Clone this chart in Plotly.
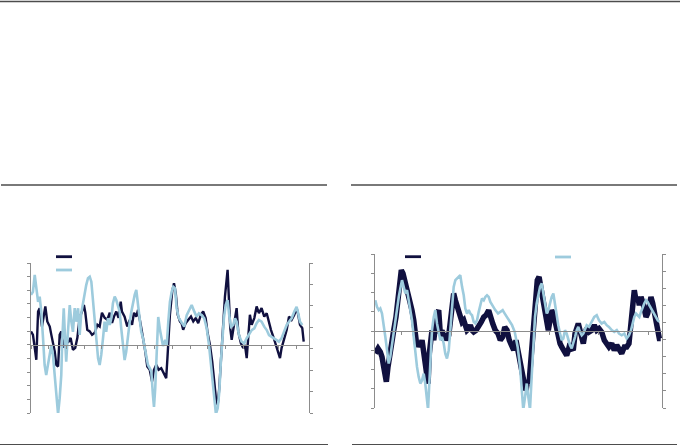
import plotly.graph_objects as go

# ---------------- Left chart data ----------------
left_dark_x = [2008.00, 2008.11, 2008.24, 2008.30, 2008.40, 2008.49, 2008.62, 2008.73, 2008.81, 2008.92,
 2009.06, 2009.15, 2009.24, 2009.34, 2009.43, 2009.53, 2009.62, 2009.71, 2009.81, 2009.94,
 2010.09, 2010.24, 2010.37, 2010.50, 2010.62, 2010.75, 2010.88, 2010.99, 2011.07, 2011.18,
 2011.32, 2011.45, 2011.60, 2011.75, 2011.88, 2012.01, 2012.16, 2012.31, 2012.45, 2012.58,
 2012.69, 2012.82, 2012.95, 2013.07, 2013.14, 2013.29, 2013.44, 2013.58, 2013.71, 2013.82,
 2013.95, 2014.05, 2014.20, 2014.33, 2014.46, 2014.57, 2014.71, 2014.84, 2014.95, 2015.08,
 2015.21, 2015.36, 2015.51, 2015.64, 2015.71, 2015.76, 2015.85, 2015.98, 2016.08, 2016.18,
 2016.29, 2016.42, 2016.51, 2016.60, 2016.74, 2016.89, 2017.04, 2017.17, 2017.31, 2017.45,
 2017.60, 2017.73, 2017.87, 2017.98, 2018.11, 2018.24, 2018.36, 2018.45, 2018.55, 2018.64,
 2018.73, 2018.81, 2018.89, 2018.96, 2019.06, 2019.11, 2019.19, 2019.26, 2019.34, 2019.43,
 2019.53, 2019.62, 2019.71, 2019.86, 2019.99, 2020.09, 2020.19, 2020.28, 2020.37, 2020.47,
 2020.62, 2020.75, 2020.88, 2021.03, 2021.18, 2021.32, 2021.45, 2021.56, 2021.69, 2021.82,
 2021.94, 2022.07, 2022.16, 2022.31, 2022.45, 2022.58, 2022.73, 2022.88, 2023.01, 2023.10,
 2023.20, 2023.33, 2023.41]
left_dark = [0.98, 0.73, -0.49, -1.10, 2.44, 2.69, 1.34, 2.20, 2.81, 1.71,
 1.34, 0.73, 0.15, -0.49, -1.47, -1.59, 0.73, 0.98, -0.22, 0.51,
 0.15, 0.51, -0.37, -0.22, 0.51, 1.98, 2.44, 2.93, 2.35, 1.10,
 0.98, 0.73, 0.88, 1.47, 1.34, 2.35, 1.98, 1.83, 2.35, 1.61,
 2.07, 2.44, 1.98, 3.17, 2.44, 2.07, 1.34, 1.83, 1.47, 2.35,
 2.07, 2.57, 1.47, 0.51, -0.49, -1.59, -1.83, -2.69, -1.83, -1.47,
 -1.83, -1.71, -2.07, -2.44, -0.98, 0.51, 2.20, 3.91, 4.52, 3.79,
 2.20, 1.71, 1.59, 1.10, 1.59, 1.83, 2.07, 1.71, 1.96, 1.59,
 2.20, 2.44, 1.96, 0.86, 0.00, -1.22, -2.69, -3.91, -4.40, -3.17,
 -1.22, 0.98, 2.07, 3.54, 4.64, 5.50, 3.17, 1.22, 0.37, 1.10,
 1.71, 2.69, 0.98, 0.12, -0.24, 0.00, -0.98, 0.98, 2.20, 1.47,
 1.96, 2.81, 2.32, 2.69, 2.07, 2.32, 1.59, 1.10, 0.61, 0.00,
 -0.37, -0.98, -0.24, 0.37, 1.10, 2.07, 1.83, 2.20, 2.69, 2.20,
 1.47, 1.22, 0.24]

left_light_x = [2008.00, 2008.11, 2008.21, 2008.30, 2008.40, 2008.49, 2008.58, 2008.68, 2008.77, 2008.86,
 2008.96, 2009.06, 2009.15, 2009.24, 2009.34, 2009.43, 2009.53, 2009.62, 2009.71, 2009.77,
 2009.85, 2009.90, 2009.99, 2010.09, 2010.19, 2010.28, 2010.37, 2010.47, 2010.56, 2010.66,
 2010.75, 2010.84, 2010.94, 2011.03, 2011.12, 2011.22, 2011.32, 2011.41, 2011.50, 2011.60,
 2011.69, 2011.79, 2011.88, 2011.97, 2012.07, 2012.16, 2012.25, 2012.35, 2012.45, 2012.54,
 2012.63, 2012.73, 2012.82, 2012.92, 2013.01, 2013.10, 2013.20, 2013.29, 2013.38, 2013.48,
 2013.58, 2013.67, 2013.76, 2013.86, 2013.95, 2014.05, 2014.14, 2014.23, 2014.33, 2014.42,
 2014.51, 2014.61, 2014.71, 2014.80, 2014.89, 2014.95, 2015.02, 2015.12, 2015.19, 2015.29,
 2015.46, 2015.59, 2015.67, 2015.76, 2015.85, 2015.95, 2016.04, 2016.14, 2016.23, 2016.36,
 2016.51, 2016.66, 2016.80, 2016.93, 2017.08, 2017.23, 2017.36, 2017.49, 2017.64, 2017.79,
 2017.93, 2018.06, 2018.17, 2018.27, 2018.36, 2018.45, 2018.55, 2018.64, 2018.73, 2018.81,
 2018.90, 2019.00, 2019.11, 2019.20, 2019.30, 2019.43, 2019.53, 2019.62, 2019.75, 2019.90,
 2020.05, 2020.19, 2020.32, 2020.47, 2020.62, 2020.75, 2020.88, 2021.03, 2021.18, 2021.32,
 2021.45, 2021.60, 2021.75, 2021.88, 2022.01, 2022.16, 2022.31, 2022.45, 2022.58, 2022.73,
 2022.88, 2023.01, 2023.10, 2023.20, 2023.33]
left_light = [2.51, 2.66, 3.44, 2.82, 2.19, 2.43, 1.73, 0.49, -0.76, -1.23,
 -0.76, -0.29, 0.17, -0.29, -1.23, -2.16, -3.05, -2.31, -1.23, 0.49,
 1.89, 0.95, -0.61, 0.79, 2.04, 1.26, 0.79, 1.89, 1.26, 1.89,
 0.64, 1.65, 2.19, 2.66, 2.97, 3.29, 3.36, 3.13, 2.19, 1.26,
 0.17, -0.45, -0.76, -0.29, 0.49, 1.26, 0.79, 1.42, 1.11, 1.42,
 2.12, 2.43, 2.27, 2.04, 1.73, 0.95, 0.02, -0.53, -0.14, 0.64,
 1.26, 1.73, 2.19, 2.51, 2.74, 2.04, 1.26, 0.79, 0.49, 0.02,
 -0.45, -0.76, -0.91, -1.07, -2.16, -2.71, -1.85, 0.41, 1.48, 0.87,
 0.13, 0.41, 0.17, 1.26, 2.19, 2.66, 2.89, 2.82, 1.89, 1.42,
 1.19, 1.03, 1.57, 1.81, 2.04, 1.73, 1.49, 1.65, 1.57, 1.42,
 0.95, 0.17, -0.76, -1.54, -2.31, -3.05, -2.78, -2.01, -0.61, 0.49,
 1.42, 2.04, 2.27, 1.57, 1.03, 1.11, 1.42, 1.26, 0.64, 0.33,
 0.25, 0.49, 0.64, 0.87, 0.95, 1.19, 1.34, 1.26, 1.03, 0.87,
 0.64, 0.56, 0.49, 0.41, 0.33, 0.49, 0.79, 1.11, 1.26, 1.42,
 1.73, 1.96, 1.65, 1.26, 1.11]

# ---------------- Right chart data ----------------
right_dark_x = [1992.32, 1992.60, 1992.83, 1993.00, 1993.17, 1993.34, 1993.44, 1993.61, 1993.74, 1993.95,
 1994.19, 1994.42, 1994.62, 1994.80, 1994.96, 1995.13, 1995.30, 1995.47, 1995.64, 1995.87,
 1996.04, 1996.22, 1996.38, 1996.55, 1996.72, 1996.89, 1997.06, 1997.23, 1997.39, 1997.57,
 1997.67, 1997.80, 1997.94, 1998.07, 1998.25, 1998.41, 1998.58, 1998.75, 1998.91, 1999.09,
 1999.26, 1999.42, 1999.59, 1999.77, 1999.93, 2000.10, 2000.27, 2000.44, 2000.61, 2000.78,
 2000.94, 2001.12, 2001.29, 2001.45, 2001.62, 2001.80, 2001.96, 2002.13, 2002.30, 2002.54,
 2002.81, 2003.07, 2003.32, 2003.55, 2003.82, 2003.99, 2004.23, 2004.49, 2004.77, 2005.00,
 2005.24, 2005.45, 2005.68, 2005.91, 2006.12, 2006.36, 2006.59, 2006.76, 2007.00, 2007.23,
 2007.43, 2007.61, 2007.78, 2007.91, 2008.08, 2008.25, 2008.42, 2008.59, 2008.75, 2008.93,
 2009.10, 2009.26, 2009.46, 2009.71, 2009.87, 2010.04, 2010.21, 2010.38, 2010.55, 2010.72,
 2010.88, 2011.06, 2011.23, 2011.39, 2011.56, 2011.73, 2011.90, 2012.07, 2012.24, 2012.40,
 2012.58, 2012.75, 2012.91, 2013.08, 2013.26, 2013.42, 2013.59, 2013.76, 2014.00, 2014.27,
 2014.53, 2014.78, 2015.01, 2015.28, 2015.55, 2015.79, 2016.02, 2016.30, 2016.56, 2016.81,
 2017.04, 2017.31, 2017.58, 2017.82, 2018.05, 2018.26, 2018.43, 2018.59, 2018.76, 2018.94,
 2019.10, 2019.27, 2019.44, 2019.60, 2019.78, 2019.95, 2020.11, 2020.28, 2020.46, 2020.62,
 2020.79, 2020.96, 2021.13, 2021.27]
right_dark = [-1.17, -0.91, -1.09, -1.35, -1.86, -2.38, -2.64, -1.86, -1.35, -0.65,
 0.04, 0.73, 1.77, 2.64, 3.16, 2.99, 2.64, 2.29, 1.95, 1.60,
 1.08, 0.56, -0.31, -0.83, -0.57, -0.83, -0.48, -1.00, -1.52, -2.04,
 -2.73, -1.17, -0.13, 0.04, -0.48, 0.39, 0.91, 1.08, -0.13, 0.04,
 -0.48, -0.13, -0.48, -0.22, 0.47, 1.25, 1.95, 1.60, 1.34, 1.08,
 0.82, 0.47, 0.56, 0.21, 0.04, 0.13, 0.30, 0.04, -0.05, 0.04,
 0.21, 0.47, 0.73, 0.82, 1.08, 0.73, 0.39, 0.04, -0.13, -0.48,
 -0.31, 0.21, 0.04, -0.48, -0.83, -1.00, -0.48, -1.00, -1.69, -2.21,
 -2.73, -3.08, -2.56, -2.73, -1.69, -0.48, 0.73, 1.77, 2.64, 2.81,
 2.29, 1.60, 0.91, 0.21, 0.04, 0.56, 1.08, 0.91, 0.47, 0.04,
 -0.39, -0.65, -0.83, -1.00, -1.17, -1.26, -1.00, -0.65, -0.91, -1.00,
 -0.13, 0.30, 0.39, 0.04, -0.48, -0.65, -0.13, 0.13, -0.05, 0.04,
 0.30, 0.04, 0.13, -0.05, -0.48, -0.74, -0.83, -0.65, -1.00, -0.74,
 -1.00, -1.17, -0.83, -0.83, -0.65, 0.21, 1.08, 2.12, 1.60, 1.77,
 1.34, 1.77, 1.51, 1.17, 0.73, 0.91, 1.51, 1.77, 1.43, 0.91,
 0.39, 0.04, -0.39, -0.39]

right_light_x = [1992.32, 1992.49, 1992.67, 1992.83, 1993.00, 1993.17, 1993.34, 1993.51, 1993.68, 1993.84,
 1994.02, 1994.19, 1994.35, 1994.52, 1994.70, 1994.86, 1995.03, 1995.20, 1995.37, 1995.54,
 1995.71, 1995.87, 1996.04, 1996.22, 1996.38, 1996.55, 1996.72, 1996.89, 1997.06, 1997.23,
 1997.39, 1997.57, 1997.67, 1997.80, 1997.94, 1998.07, 1998.25, 1998.41, 1998.58, 1998.75,
 1998.91, 1999.09, 1999.26, 1999.42, 1999.59, 1999.77, 1999.93, 2000.10, 2000.27, 2000.44,
 2000.61, 2000.78, 2000.94, 2001.12, 2001.29, 2001.45, 2001.62, 2001.80, 2001.96, 2002.13,
 2002.30, 2002.46, 2002.64, 2002.81, 2002.97, 2003.14, 2003.32, 2003.48, 2003.65, 2003.82,
 2003.99, 2004.16, 2004.33, 2004.49, 2004.77, 2005.00, 2005.24, 2005.45, 2005.68, 2005.91,
 2006.19, 2006.46, 2006.76, 2007.00, 2007.17, 2007.33, 2007.51, 2007.68, 2007.84, 2008.01,
 2008.18, 2008.35, 2008.52, 2008.69, 2008.85, 2009.03, 2009.20, 2009.36, 2009.53, 2009.71,
 2009.87, 2010.04, 2010.21, 2010.38, 2010.55, 2010.72, 2010.88, 2011.06, 2011.23, 2011.39,
 2011.56, 2011.73, 2011.90, 2012.07, 2012.24, 2012.40, 2012.58, 2012.75, 2012.91, 2013.08,
 2013.26, 2013.42, 2013.59, 2013.76, 2014.00, 2014.27, 2014.53, 2014.78, 2015.01, 2015.28,
 2015.55, 2015.79, 2016.02, 2016.30, 2016.56, 2016.81, 2017.04, 2017.31, 2017.58, 2017.82,
 2018.05, 2018.26, 2018.43, 2018.59, 2018.76, 2018.94, 2019.10, 2019.27, 2019.44, 2019.60,
 2019.78, 2019.95, 2020.11, 2020.28, 2020.46, 2020.62, 2020.79, 2020.96, 2021.13]
right_light = [1.80, 1.41, 1.22, 1.32, 1.02, 0.44, -0.35, -1.12, -1.90, -1.51,
 -0.73, -0.15, 0.63, 1.22, 1.99, 2.49, 2.97, 2.58, 2.19, 2.39,
 1.80, 1.22, 0.63, -0.35, -1.32, -2.10, -2.68, -3.07, -2.88, -2.49,
 -3.07, -3.85, -4.60, -3.07, -1.12, 0.05, 0.82, 1.22, 0.44, -0.15,
 -0.54, -0.35, -0.73, -1.32, -1.61, -1.12, 0.05, 1.41, 2.58, 2.97,
 3.07, 3.16, 3.26, 2.58, 2.09, 1.32, 1.02, 1.22, 1.02, 0.92,
 0.53, 0.44, 0.63, 1.12, 1.61, 1.90, 1.80, 1.99, 2.09, 1.99,
 1.70, 1.51, 1.41, 1.22, 1.02, 1.12, 1.22, 1.02, 0.82, 0.63,
 0.34, -0.05, -0.93, -2.10, -3.46, -4.60, -3.85, -3.07, -3.85, -4.60,
 -2.68, -0.73, 0.82, 1.61, 2.19, 2.58, 2.78, 2.19, 1.41, 1.02,
 1.22, 1.61, 1.99, 2.19, 1.51, 0.82, 0.34, -0.15, -0.54, -0.44,
 0.05, -0.15, -0.54, -0.83, -1.02, -0.73, -0.35, 0.05, 0.24, -0.05,
 -0.25, -0.15, 0.15, 0.34, 0.24, 0.53, 0.82, 0.92, 0.63, 0.44,
 0.53, 0.34, 0.24, 0.05, -0.05, 0.05, -0.15, -0.25, -0.15, -0.44,
 -0.25, 0.05, 0.44, 0.82, 1.02, 0.92, 0.82, 1.12, 1.41, 1.61,
 1.80, 1.70, 1.51, 1.32, 1.12, 0.92, 0.73, 0.63, 0.53]

DARK = "#10103f"
LIGHT = "#9dcbdd"
AX = "#8c8c8c"
SEP = "#4d4d4d"

W, H = 680, 446

def px(x):
    return x / W

def py(y):
    return 1 - y / H

fig = go.Figure()
fig.add_trace(go.Scatter(x=left_dark_x, y=left_dark, mode="lines", line=dict(color=DARK, width=2.4),
                         xaxis="x", yaxis="y", showlegend=False, hoverinfo="skip"))
fig.add_trace(go.Scatter(x=left_light_x, y=left_light, mode="lines", line=dict(color=LIGHT, width=2.6),
                         xaxis="x", yaxis="y2", showlegend=False, hoverinfo="skip"))
fig.add_trace(go.Scatter(x=right_dark_x, y=right_dark, mode="lines", line=dict(color=DARK, width=5.5),
                         xaxis="x2", yaxis="y3", showlegend=False, hoverinfo="skip"))
fig.add_trace(go.Scatter(x=right_light_x, y=right_light, mode="lines", line=dict(color=LIGHT, width=2.6),
                         xaxis="x2", yaxis="y4", showlegend=False, hoverinfo="skip"))

common_y = dict(showgrid=False, zeroline=False, showline=True, linecolor=AX, linewidth=1,
                ticks="outside", ticklen=3, tickcolor=AX, tickwidth=1, showticklabels=False, fixedrange=True)
common_x = dict(showgrid=False, zeroline=False, showline=True, linecolor=AX, linewidth=1,
                ticks="outside", ticklen=3, tickcolor=AX, tickwidth=1, showticklabels=False, fixedrange=True)

left_dom_x = [px(31), px(309)]
left_dom_y = [py(413), py(263)]
right_dom_x = [px(375), px(662)]
right_dom_y = [py(408), py(254)]

fig.update_layout(
    width=W, height=H, autosize=False,
    margin=dict(l=0, r=0, t=0, b=0, pad=0),
    paper_bgcolor="white", plot_bgcolor="white",
    template="none",
    xaxis=dict(domain=left_dom_x, range=[2008.0, 2023.71], tick0=2008, dtick=1,
               anchor="free", position=py(345), **common_x),
    yaxis=dict(domain=left_dom_y, range=[-5, 6], dtick=1, tick0=0, anchor="x", side="left", **common_y),
    yaxis2=dict(range=[-3, 4], dtick=1, tick0=0, anchor="x", overlaying="y", side="right", **common_y),
    xaxis2=dict(domain=right_dom_x, range=[1992.29, 2021.40], tick0=1995, dtick=5,
                anchor="free", position=py(330.8), **common_x),
    yaxis3=dict(domain=right_dom_y, range=[-4, 4], dtick=1, tick0=0, anchor="x2", side="left", **common_y),
    yaxis4=dict(range=[-4.5, 4.5], dtick=1, tick0=0.5, anchor="x2", overlaying="y3", side="right", **common_y),
)

shapes = []
# separator rules
shapes.append(dict(type="line", xref="paper", yref="paper", x0=0, x1=1, y0=py(1.5), y1=py(1.5),
                   line=dict(color=SEP, width=1.5)))
for x0, x1 in [(1, 327), (351, 677)]:
    shapes.append(dict(type="line", xref="paper", yref="paper", x0=px(x0), x1=px(x1), y0=py(185), y1=py(185),
                       line=dict(color=SEP, width=1.5)))
for x0, x1 in [(0, 328), (352, 677)]:
    shapes.append(dict(type="line", xref="paper", yref="paper", x0=px(x0), x1=px(x1), y0=py(444.5), y1=py(444.5),
                       line=dict(color=SEP, width=1.2)))
# legend swatches
for (x0, x1, y, c) in [(56, 72, 256.7, DARK), (56, 72, 270, LIGHT), (405, 421, 256.7, DARK), (555, 571, 257, LIGHT)]:
    shapes.append(dict(type="line", xref="paper", yref="paper", x0=px(x0), x1=px(x1), y0=py(y), y1=py(y),
                       line=dict(color=c, width=2.8)))
fig.update_layout(shapes=shapes)

fig.write_html("out.html", config={"displayModeBar": False},
               post_script="document.body.style.margin='0';document.body.style.padding='0';")
